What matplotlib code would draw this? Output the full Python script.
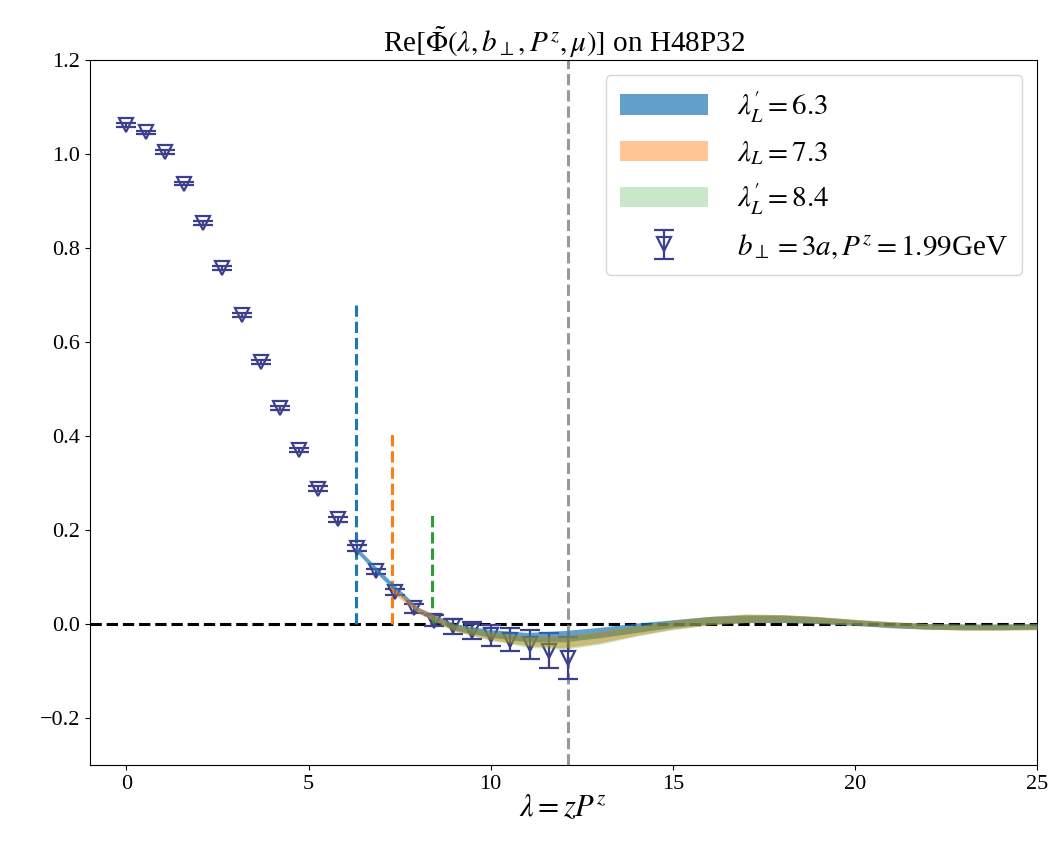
import matplotlib.pyplot as plt
import numpy as np

plt.rcParams['font.family'] = ['Liberation Serif', 'DejaVu Serif']
plt.rcParams['mathtext.fontset'] = 'stix'

# lattice data, b_perp = 3a, Pz = 1.99 GeV
lam_step = 0.527
re_phi = [1.062, 1.046, 1.004, 0.937, 0.854, 0.758, 0.657, 0.558, 0.460, 0.370,
          0.288, 0.223, 0.162, 0.112, 0.068, 0.033, 0.007, -0.005, -0.014, -0.024,
          -0.033, -0.043, -0.057, -0.072]
re_err = [0.004, 0.004, 0.004, 0.004, 0.004, 0.004, 0.004, 0.004, 0.004, 0.005,
          0.005, 0.005, 0.006, 0.006, 0.007, 0.009, 0.012, 0.016, 0.018, 0.022,
          0.025, 0.031, 0.037, 0.044]
lam = np.arange(len(re_phi)) * lam_step

# extrapolated bands (centre, half width)
lam_b1 = [6.3, 7, 8, 9, 10, 11, 12, 13, 14, 15, 16, 17, 18, 19, 20, 21, 22, 23, 24, 25]
cen_b1 = [0.160, 0.104, 0.030, -0.006, -0.020, -0.028, -0.026, -0.018, -0.008, 0.001,
          0.008, 0.011, 0.011, 0.008, 0.003, -0.002, -0.005, -0.006, -0.006, -0.005]
wid_b1 = [0.006, 0.006, 0.006, 0.007, 0.008, 0.010, 0.012, 0.011, 0.010, 0.008,
          0.008, 0.008, 0.008, 0.007, 0.006, 0.006, 0.006, 0.006, 0.006, 0.006]

lam_b2 = [7.3, 8, 9, 10, 11, 12, 13, 14, 15, 16, 17, 18, 19, 20, 21, 22, 23, 24, 25]
cen_b2 = [0.072, 0.030, -0.008, -0.025, -0.036, -0.038, -0.028, -0.014, -0.002,
          0.007, 0.012, 0.012, 0.009, 0.004, -0.001, -0.005, -0.007, -0.007, -0.006]
wid_b2 = [0.006, 0.006, 0.007, 0.008, 0.010, 0.013, 0.012, 0.010, 0.009,
          0.009, 0.009, 0.008, 0.007, 0.006, 0.006, 0.006, 0.006, 0.006, 0.006]

lam_b3 = [8.4, 9, 10, 11, 12, 13, 14, 15, 16, 17, 18, 19, 20, 21, 22, 23, 24, 25]
cen_b3 = [0.010, -0.007, -0.026, -0.038, -0.040, -0.030, -0.015, -0.002,
          0.007, 0.012, 0.012, 0.009, 0.004, -0.001, -0.005, -0.007, -0.007, -0.006]
wid_b3 = [0.006, 0.007, 0.009, 0.011, 0.014, 0.013, 0.011, 0.010,
          0.009, 0.009, 0.008, 0.007, 0.006, 0.006, 0.006, 0.006, 0.006, 0.006]

lam_L = [6.3, 7.3, 8.4]
vline_top = [0.685, 0.41, 0.235]
band_labels = [r"$\lambda_L'=6.3$", r"$\lambda_L=7.3$", r"$\lambda_L'=8.4$"]
band_colors = ['tab:blue', 'tab:orange', 'tab:green']
band_alpha = [0.7, 0.45, 0.25]

fig = plt.figure(figsize=(10.53, 8.5), dpi=100)
ax = fig.add_axes([0.0855, 0.1, 0.8993, 0.8294])

ax.axhline(0, color='black', ls='--', lw=2.2, zorder=1)

eb = ax.errorbar(lam, re_phi, yerr=re_err, fmt='v', color='#3b3f8c', mfc='none',
                 ms=10, mew=1.6, elinewidth=1.6, capsize=7, capthick=1.6, zorder=2,
                 label=r'$b_\perp=3a, P^z=1.99$GeV')

bands = []
for x, c, w, col, a, lab in zip([lam_b1, lam_b2, lam_b3], [cen_b1, cen_b2, cen_b3],
                                [wid_b1, wid_b2, wid_b3], band_colors, band_alpha, band_labels):
    c = np.array(c)
    w = np.array(w)
    b = ax.fill_between(x, c - w, c + w, color=col, alpha=a, lw=0, label=lab, zorder=3)
    bands.append(b)

for x, top, col in zip(lam_L, vline_top, band_colors):
    ax.vlines(x, 0, top, colors=col, linestyles='--', lw=2.2, zorder=2)

ax.axvline(lam[-1], color='gray', alpha=0.8, ls='--', lw=2.2, zorder=1)

ax.set_xlim(-1, 25)
ax.set_ylim(-0.3, 1.2)
ax.set_xticks([0, 5, 10, 15, 20, 25])
ax.set_yticks([-0.2, 0.0, 0.2, 0.4, 0.6, 0.8, 1.0, 1.2])
ax.tick_params(labelsize=16)
ax.set_xlabel(r'$\lambda=zP^z$', fontsize=22, labelpad=0)
ax.set_title(r'Re$[\tilde{\Phi}(\lambda,b_\perp,P^z,\mu)]$ on H48P32', fontsize=21)
ax.legend(bands + [eb], band_labels + [r'$b_\perp=3a, P^z=1.99$GeV'],
          loc='upper right', fontsize=21, handlelength=3.0, handletextpad=1.0,
          borderpad=0.5)

plt.savefig('out.png')
